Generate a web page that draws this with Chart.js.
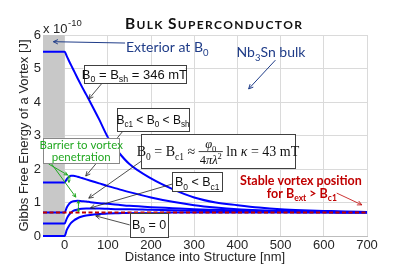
<!DOCTYPE html>
<html>
<head>
<meta charset="utf-8">
<script src="https://cdn.jsdelivr.net/npm/chart.js@4.4.0/dist/chart.umd.min.js"></script>
<style>
html, body { margin: 0; padding: 0; background: #fff; }
</style>
</head>
<body>
<canvas id="graficaVortice" width="399" height="279"></canvas>
<script>
// Distancia dentro de la estructura (nm) y energía (x 1e-10 J)
const distancia = [-50, 0, 5, 10, 15, 20, 30, 40, 50, 60, 80, 100, 125, 150, 200, 250, 300, 350, 400, 450, 500, 550, 600, 650, 700];
const energiaBsh   = [5.5, 5.5, 5.37, 5.23, 5.1, 4.97, 4.71, 4.46, 4.22, 3.98, 3.48, 2.95, 2.5, 2.15, 1.72, 1.4, 1.15, 1.0, 0.92, 0.85, 0.8, 0.77, 0.75, 0.73, 0.72];
const energiaMedio = [1.6, 1.6, 1.7, 1.77, 1.8, 1.8, 1.77, 1.73, 1.69, 1.65, 1.57, 1.49, 1.4, 1.31, 1.15, 1.02, 0.92, 0.85, 0.8, 0.77, 0.75, 0.73, 0.72, 0.71, 0.71];
const energiaBc1   = [0.7, 0.7, 0.85, 0.95, 1.01, 1.04, 1.05, 1.04, 1.03, 1.01, 0.98, 0.96, 0.93, 0.9, 0.86, 0.83, 0.8, 0.78, 0.76, 0.75, 0.74, 0.73, 0.72, 0.71, 0.71];
const energiaBajo  = [0.37, 0.37, 0.52, 0.63, 0.7, 0.75, 0.79, 0.81, 0.82, 0.82, 0.82, 0.81, 0.8, 0.8, 0.78, 0.77, 0.75, 0.74, 0.73, 0.72, 0.72, 0.71, 0.71, 0.7, 0.7];
const energiaCero  = [0, 0, 0.18, 0.3, 0.39, 0.45, 0.53, 0.58, 0.61, 0.63, 0.66, 0.67, 0.68, 0.69, 0.69, 0.7, 0.7, 0.7, 0.7, 0.7, 0.7, 0.7, 0.7, 0.7, 0.7];
const estableX = [-50, 700];
const estableY = [0.7, 0.7];
const xTicks = [0, 100, 200, 300, 400, 500, 600, 700];

const azulTexto = '#1f3c88';
const verde = '#22a822';
const rojo = '#c00000';

function puntos(xs, ys) {
    return xs.map((x, i) => ({ x: x, y: ys[i] }));
}

// --- utilidades de dibujo ---
function P(chart, xv, yv) {
    return [chart.scales.x.getPixelForValue(xv), chart.scales.y.getPixelForValue(yv)];
}
function setFont(ctx, o, k) {
    const sz = (k === 's' || k === 'S') ? o.size * 0.68 : o.size;
    const st = k === 'i' ? 'italic ' : '';
    ctx.font = st + (o.weight || 'normal') + ' ' + sz + 'px ' + o.family;
}
function anchoRico(ctx, segs, o) {
    let w = 0;
    segs.forEach(([t, k]) => { setFont(ctx, o, k); w += ctx.measureText(t).width; });
    return w;
}
function textoRico(ctx, segs, x, y, o) {
    const w = anchoRico(ctx, segs, o);
    let cx = o.align === 'left' ? x : x - w / 2;
    ctx.fillStyle = o.color;
    ctx.textAlign = 'left';
    ctx.textBaseline = 'alphabetic';
    const base = y + o.size * 0.36;
    segs.forEach(([t, k]) => {
        setFont(ctx, o, k);
        const dy = k === 's' ? o.size * 0.28 : (k === 'S' ? -o.size * 0.4 : 0);
        ctx.fillText(t, cx, base + dy);
        cx += ctx.measureText(t).width;
    });
    return w;
}
function flecha(ctx, x1, y1, x2, y2, color, lw, head) {
    ctx.save();
    ctx.strokeStyle = color;
    ctx.lineWidth = lw;
    ctx.beginPath();
    ctx.moveTo(x1, y1);
    ctx.lineTo(x2, y2);
    const a = Math.atan2(y2 - y1, x2 - x1);
    ctx.moveTo(x2 - head * Math.cos(a - 0.45), y2 - head * Math.sin(a - 0.45));
    ctx.lineTo(x2, y2);
    ctx.lineTo(x2 - head * Math.cos(a + 0.45), y2 - head * Math.sin(a + 0.45));
    ctx.stroke();
    ctx.restore();
}
function flechaDoble(ctx, x, y1, y2, color) {
    flecha(ctx, x, (y1 + y2) / 2, x, y1, color, 1, 3);
    flecha(ctx, x, (y1 + y2) / 2, x, y2, color, 1, 3);
}
function caja(ctx, chart, x1, y1, x2, y2, borde) {
    const [a, b] = P(chart, x1, y1);
    const [c, d] = P(chart, x2, y2);
    ctx.fillStyle = '#fff';
    ctx.fillRect(a, b, c - a, d - b);
    ctx.strokeStyle = borde || '#404040';
    ctx.lineWidth = 1;
    ctx.strokeRect(Math.round(a) + 0.5, Math.round(b) + 0.5, Math.round(c - a), Math.round(d - b));
    return [(a + c) / 2, (b + d) / 2];
}

const arial = { family: '"Liberation Sans", Arial', size: 12.5, color: '#111' };

const pluginZonaExterior = {
    id: 'zonaExterior',
    beforeDatasetsDraw(chart) {
        const { ctx, chartArea } = chart;
        const x0 = chart.scales.x.getPixelForValue(-50);
        const x1 = chart.scales.x.getPixelForValue(0);
        ctx.save();
        ctx.fillStyle = '#c8c8c8';
        ctx.fillRect(x0, chartArea.top, x1 - x0, chartArea.bottom - chartArea.top);
        ctx.restore();
    }
};

const pluginAnotaciones = {
    id: 'anotaciones',
    afterDatasetsDraw(chart) {
        const ctx = chart.ctx;
        ctx.save();
        let a, b;

        // Exterior at B0
        a = P(chart, -26, 5.8); b = P(chart, 140, 5.76);
        flecha(ctx, b[0], b[1], a[0], a[1], azulTexto, 1, 5);
        a = P(chart, 142, 5.64);
        textoRico(ctx, [['Exterior at B'], ['0', 's']], a[0], a[1], { family: 'Lato', size: 14, color: azulTexto, align: 'left' });

        // Nb3Sn bulk
        a = P(chart, 398, 5.49);
        textoRico(ctx, [['Nb'], ['3', 's'], ['Sn bulk']], a[0], a[1], { family: 'Lato', size: 14, color: azulTexto, align: 'left' });
        a = P(chart, 488, 5.25); b = P(chart, 426, 4.39);
        flecha(ctx, a[0], a[1], b[0], b[1], azulTexto, 1, 5);

        // B0 = Bsh
        a = P(chart, 86, 4.55); b = P(chart, 56, 4.09);
        flecha(ctx, a[0], a[1], b[0], b[1], '#222', 0.8, 5);
        let c = caja(ctx, chart, 44, 5.1, 279, 4.57);
        textoRico(ctx, [['B'], ['0', 's'], [' = B'], ['sh', 's'], [' = 346 mT']], c[0], c[1], { ...arial, size: 13 });

        // Bc1 < B0 < Bsh
        a = P(chart, 135, 3.13); b = P(chart, 49, 1.79);
        flecha(ctx, a[0], a[1], b[0], b[1], '#222', 0.8, 5);
        c = caja(ctx, chart, 121, 3.82, 288, 3.13);
        textoRico(ctx, [['B'], ['c1', 's'], [' < B'], ['0', 's'], [' < B'], ['sh', 's']], c[0], c[1], { ...arial, size: 12 });

        // B0 = Bc1 formula
        a = P(chart, 188, 2.33); b = P(chart, 56, 1.13);
        flecha(ctx, a[0], a[1], b[0], b[1], '#222', 0.8, 5);
        c = caja(ctx, chart, 177, 3.04, 533, 2.03);
        const serif = { family: '"Liberation Serif", "Times New Roman"', size: 14, color: '#111', align: 'left' };
        const izq = [['B'], ['0', 's'], [' = B'], ['c1', 's'], [' ≈ ']];
        const num = [['φ', 'i'], ['0', 's']];
        const den = [['4'], ['πλ', 'i'], ['2', 'S']];
        const der = [[' ln '], ['κ', 'i'], [' = 43 mT']];
        const fs = { ...serif, size: 12.5 };
        const wI = anchoRico(ctx, izq, serif), wN = anchoRico(ctx, num, fs), wD = anchoRico(ctx, den, fs), wR = anchoRico(ctx, der, serif);
        const wF = Math.max(wN, wD) + 2;
        let x = c[0] - (wI + wF + wR) / 2;
        textoRico(ctx, izq, x, c[1], serif);
        x += wI;
        textoRico(ctx, num, x + (wF - wN) / 2, c[1] - 7.5, fs);
        textoRico(ctx, den, x + (wF - wD) / 2, c[1] + 8.5, fs);
        ctx.strokeStyle = '#111'; ctx.lineWidth = 0.8;
        ctx.beginPath(); ctx.moveTo(x, c[1] + 0.5); ctx.lineTo(x + wF, c[1] + 0.5); ctx.stroke();
        textoRico(ctx, der, x + wF, c[1], serif);

        // B0 < Bc1
        a = P(chart, 249, 1.55); b = P(chart, 60, 0.84);
        flecha(ctx, a[0], a[1], b[0], b[1], '#222', 0.8, 5);
        c = caja(ctx, chart, 249, 1.91, 365, 1.34);
        textoRico(ctx, [['B'], ['0', 's'], [' < B'], ['c1', 's']], c[0], c[1], arial);

        // B0 = 0
        a = P(chart, 151, 0.33); b = P(chart, 72, 0.6);
        flecha(ctx, a[0], a[1], b[0], b[1], '#222', 0.8, 5);
        c = caja(ctx, chart, 151, 0.69, 240, -0.03);
        textoRico(ctx, [['B'], ['0', 's'], [' = 0']], c[0], c[1], arial);

        // Barrier to vortex penetration
        a = P(chart, -37, 2.15); b = P(chart, 7, 1.82);
        flecha(ctx, a[0], a[1], b[0], b[1], verde, 1, 4);
        a = P(chart, -30, 2.15); b = P(chart, 26, 1.16);
        flecha(ctx, a[0], a[1], b[0], b[1], verde, 1, 4);
        a = P(chart, 10, 1.6); b = P(chart, 10, 1.8);
        flechaDoble(ctx, a[0], a[1], b[1], verde);
        a = P(chart, 32, 0.72); b = P(chart, 32, 1.05);
        flechaDoble(ctx, a[0], a[1], b[1], verde);
        c = caja(ctx, chart, -49, 2.93, 126, 2.18, '#888');
        const verdeF = { family: 'Lato', size: 11.5, color: verde };
        textoRico(ctx, [['Barrier to vortex']], c[0], c[1] - 6, verdeF);
        textoRico(ctx, [['penetration']], c[0], c[1] + 6, verdeF);

        // Stable vortex position
        const rojoF = { family: 'Lato', size: 12.5, weight: 'bold', color: rojo };
        a = P(chart, 547, 1.67);
        textoRico(ctx, [['Stable vortex position']], a[0], a[1], rojoF);
        a = P(chart, 549, 1.28);
        textoRico(ctx, [['for B'], ['ext', 's'], [' > B'], ['c1', 's']], a[0], a[1], rojoF);
        a = P(chart, 630, 1.28); b = P(chart, 688, 0.93);
        flecha(ctx, a[0], a[1], b[0], b[1], rojo, 0.8, 5);

        ctx.restore();
    },
    afterDraw(chart) {
        const ctx = chart.ctx;
        ctx.save();
        // Titulo en versalitas
        const titulo = 'BULK SUPERCONDUCTOR';
        const grandes = [0, 5];
        let natural = 0;
        const anchos = [];
        for (let i = 0; i < titulo.length; i++) {
            ctx.font = 'bold ' + (grandes.includes(i) ? 15.5 : 12) + 'px Lato';
            const w = ctx.measureText(titulo[i]).width;
            anchos.push(w);
            natural += w;
        }
        const esp = (177 - natural) / (titulo.length - 1);
        let x = 125;
        ctx.fillStyle = '#111';
        ctx.textBaseline = 'alphabetic';
        ctx.textAlign = 'left';
        for (let i = 0; i < titulo.length; i++) {
            ctx.font = 'bold ' + (grandes.includes(i) ? 15.5 : 12) + 'px Lato';
            ctx.fillText(titulo[i], x, 28.5);
            x += anchos[i] + esp;
        }
        // Exponente del eje y
        ctx.fillStyle = '#262626';
        ctx.font = '13px "Liberation Sans", Arial';
        ctx.fillText('x 10', 43, 33);
        const w10 = ctx.measureText('x 10').width;
        ctx.font = '9.5px "Liberation Sans", Arial';
        ctx.fillText('-10', 43 + w10 + 0.5, 26);
        ctx.restore();
    }
};

const ctxVortice = document.getElementById('graficaVortice').getContext('2d');
const graficaVortice = new Chart(ctxVortice, {
    type: 'line',
    data: {
        datasets: [
            { data: puntos(estableX, estableY), borderColor: rojo, borderWidth: 2, borderDash: [4, 2.5], pointRadius: 0 },
            { data: puntos(distancia, energiaBsh), borderColor: '#0000ff', borderWidth: 2, pointRadius: 0, cubicInterpolationMode: 'monotone' },
            { data: puntos(distancia, energiaMedio), borderColor: '#0000ff', borderWidth: 2, pointRadius: 0, cubicInterpolationMode: 'monotone' },
            { data: puntos(distancia, energiaBc1), borderColor: '#0000ff', borderWidth: 2, pointRadius: 0, cubicInterpolationMode: 'monotone' },
            { data: puntos(distancia, energiaBajo), borderColor: '#0000ff', borderWidth: 2, pointRadius: 0, cubicInterpolationMode: 'monotone' },
            { data: puntos(distancia, energiaCero), borderColor: '#0000ff', borderWidth: 2, pointRadius: 0, cubicInterpolationMode: 'monotone', clip: false }
        ]
    },
    options: {
        responsive: false,
        animation: false,
        layout: { padding: { top: 35, right: 32, left: 0, bottom: 0 } },
        plugins: { legend: { display: false }, tooltip: { enabled: false } },
        scales: {
            x: {
                type: 'linear',
                min: -50,
                max: 700,
                afterBuildTicks: s => { s.ticks = xTicks.map(v => ({ value: v })); },
                afterFit: s => { s.height = 43; },
                ticks: { font: { family: '"Liberation Sans", Arial', size: 13 }, color: '#262626', padding: 2, maxRotation: 0 },
                grid: { color: '#dadada', drawTicks: false },
                border: { color: '#bdbdbd' },
                title: { display: true, text: 'Distance into Structure [nm]', color: '#262626', font: { family: '"Liberation Sans", Arial', size: 13 }, padding: { top: 0, bottom: 14 } }
            },
            y: {
                min: 0,
                max: 6,
                afterFit: s => { s.width = 43; },
                ticks: { stepSize: 1, font: { family: '"Liberation Sans", Arial', size: 13 }, color: '#262626', padding: 2 },
                grid: { color: '#dadada', drawTicks: false },
                border: { color: '#bdbdbd' },
                title: { display: true, text: 'Gibbs Free Energy of a Vortex [J]', color: '#262626', font: { family: '"Liberation Sans", Arial', size: 13 }, padding: { top: 17, bottom: 0 } }
            }
        }
    },
    plugins: [pluginZonaExterior, pluginAnotaciones]
});
</script>
</body>
</html>
